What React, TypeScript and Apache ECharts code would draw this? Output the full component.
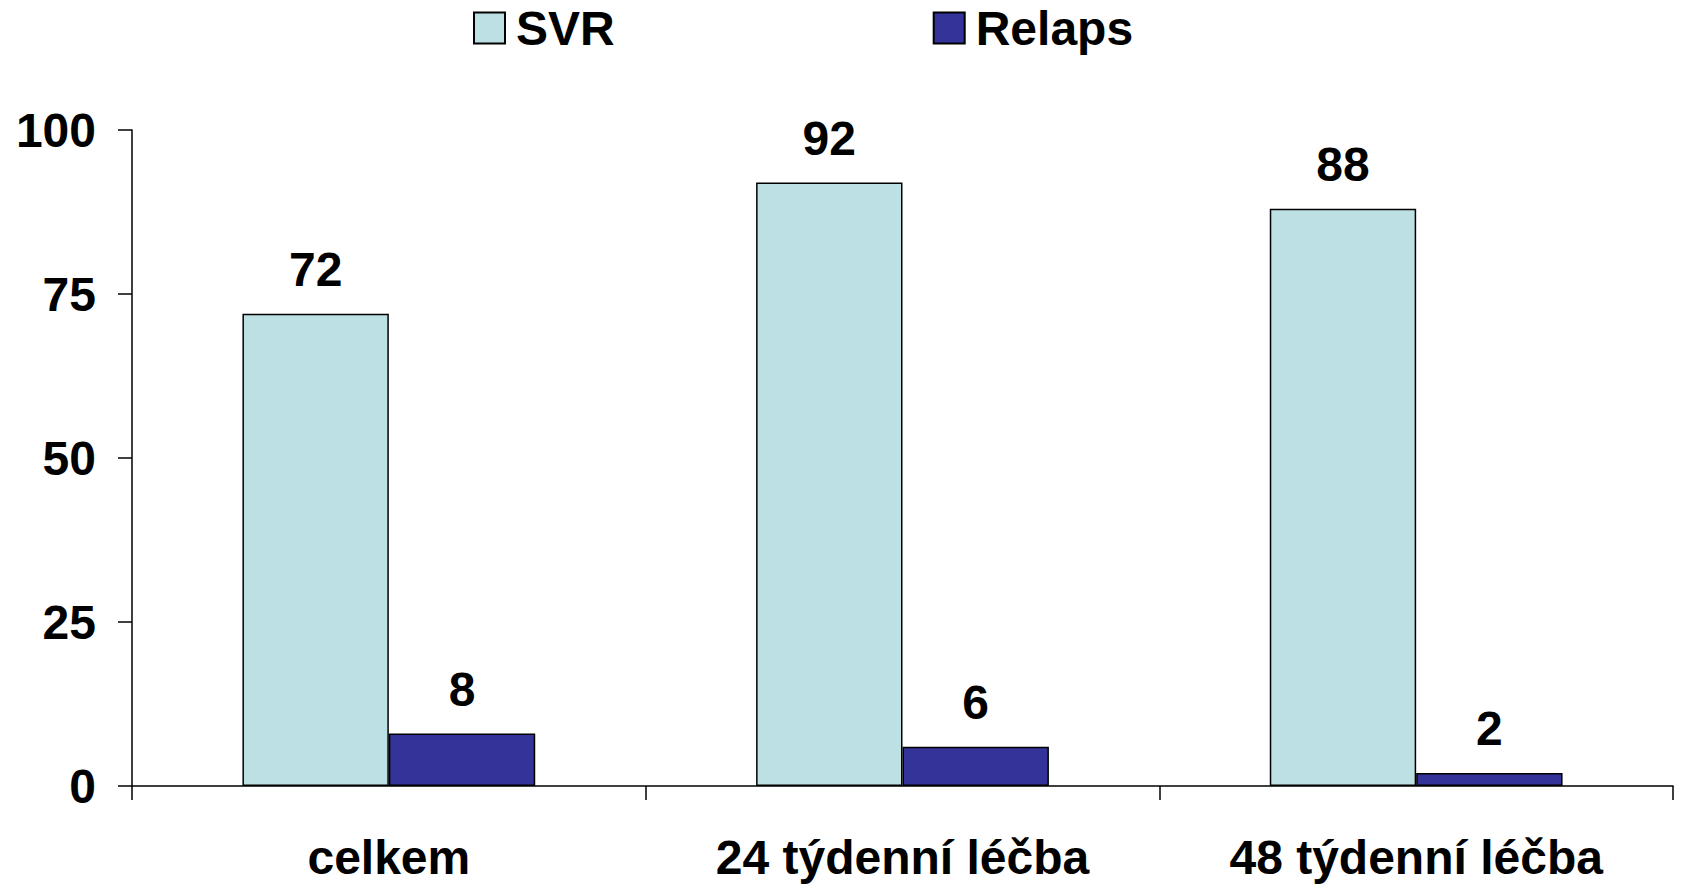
import React, { useEffect, useRef } from "react";
import * as echarts from "echarts";

const categories = ["celkem", "24 týdenní léčba", "48 týdenní léčba"];
const svrValues = [72, 92, 88];
const relapsValues = [8, 6, 2];
const seriesNames = ["SVR", "Relaps"];

const FONT = "'Liberation Sans', Arial, Helvetica, sans-serif";

export default function App() {
  const ref = useRef<HTMLDivElement>(null);
  useEffect(() => {
    if (!ref.current) return;
    const chart = echarts.init(ref.current, null, { renderer: "svg" });
    const labelStyle = {
      show: true,
      position: "top" as const,
      distance: 20,
      color: "#000",
      fontFamily: FONT,
      fontWeight: "bold" as const,
      fontSize: 48,
    };
    chart.setOption({
      animation: false,
      backgroundColor: "#fff",
      legend: {
        left: 473,
        top: 4,
        padding: 0,
        itemWidth: 31,
        itemHeight: 31,
        itemGap: 318,
        icon: "rect",
        textStyle: {
          fontFamily: FONT,
          fontWeight: "bold",
          fontSize: 48,
          color: "#000",
          padding: [0, 0, 0, 6],
        },
        data: seriesNames,
      },
      grid: { left: 132, right: 8, top: 130, bottom: 102, containLabel: false },
      xAxis: {
        type: "category",
        data: categories,
        axisLine: { lineStyle: { color: "#000", width: 1.5 } },
        axisTick: { show: true, length: 14, lineStyle: { color: "#000", width: 1.5 } },
        axisLabel: {
          margin: 47,
          color: "#000",
          fontFamily: FONT,
          fontWeight: "bold",
          fontSize: 48,
        },
        splitLine: { show: false },
      },
      yAxis: {
        type: "value",
        min: 0,
        max: 100,
        interval: 25,
        axisLine: { show: true, lineStyle: { color: "#000", width: 1.5 } },
        axisTick: { show: true, length: 14, lineStyle: { color: "#000", width: 1.5 } },
        axisLabel: {
          margin: 36,
          color: "#000",
          fontFamily: FONT,
          fontWeight: "bold",
          fontSize: 48,
        },
        splitLine: { show: false },
      },
      series: [
        {
          name: seriesNames[0],
          type: "bar",
          data: svrValues,
          barGap: "0%",
          barCategoryGap: "43%",
          itemStyle: { color: "#BCE0E3", borderColor: "#000", borderWidth: 1.5 },
          label: labelStyle,
        },
        {
          name: seriesNames[1],
          type: "bar",
          data: relapsValues,
          itemStyle: { color: "#333399", borderColor: "#000", borderWidth: 1.5 },
          label: labelStyle,
        },
      ],
    });
    return () => chart.dispose();
  }, []);
  return (
    <div
      ref={ref}
      style={{ position: "fixed", left: 0, top: 0, width: 1681, height: 888 }}
    />
  );
}
